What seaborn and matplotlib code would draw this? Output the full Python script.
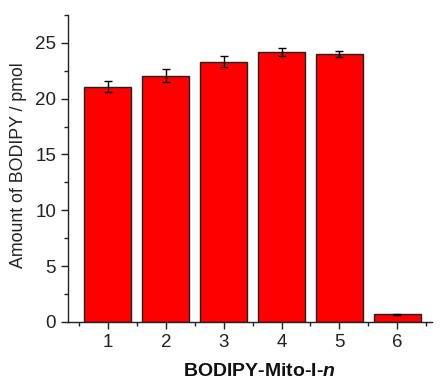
import matplotlib
matplotlib.use("Agg")
import matplotlib.pyplot as plt
import seaborn as sns
import pandas as pd
from matplotlib.ticker import MultipleLocator

categories = [1, 2, 3, 4, 5, 6]
values = [21.05, 22.05, 23.3, 24.15, 24.02, 0.7]
errors = [0.5, 0.6, 0.5, 0.36, 0.25, 0.05]

sns.set_theme(style="ticks")
plt.rcParams['font.family'] = ['Liberation Sans', 'DejaVu Sans']
plt.rcParams['mathtext.fontset'] = 'custom'
plt.rcParams['mathtext.bfit'] = 'Liberation Sans:bold:italic'

df = pd.DataFrame({"n": categories, "amount": values})

fig = plt.figure(figsize=(4.44, 3.81), dpi=100)
ax = fig.add_axes([0.153, 0.155, 0.82, 0.806])

sns.barplot(data=df, x="n", y="amount", native_scale=True, width=0.81,
            color="#ff0000", saturation=1, edgecolor="#222222", linewidth=1.0,
            errorbar=None, ax=ax)
ax.errorbar(categories, values, yerr=errors, fmt="none", ecolor="black",
            elinewidth=1.0, capsize=3, capthick=1.0)

ax.set_xlim(0.31, 6.6)
ax.set_ylim(0, 27.5)
ax.xaxis.set_major_locator(MultipleLocator(1))
ax.xaxis.set_minor_locator(MultipleLocator(0.5))
ax.yaxis.set_major_locator(MultipleLocator(5))
ax.yaxis.set_minor_locator(MultipleLocator(2.5))
ax.tick_params(which="major", direction="out", length=5, width=1, labelsize=13.5, colors="#222222")
ax.tick_params(which="minor", direction="out", length=3, width=1, colors="#222222")
ax.tick_params(axis="x", which="major", pad=4)
for t in ax.get_xticklabels() + ax.get_yticklabels():
    t.set_color("#222222")

sns.despine(ax=ax)
for s in ["left", "bottom"]:
    ax.spines[s].set_linewidth(1.0)
    ax.spines[s].set_color("#222222")

ax.set_ylabel("Amount of BODIPY / pmol", fontsize=12.8, color="#222222")
ax.set_xlabel(r"BODIPY-Mito-I-$\bfit{n}$", fontsize=14, fontweight="bold", color="#111111")
ax.yaxis.set_label_coords(-0.113, 0.51)
ax.xaxis.set_label_coords(0.527, -0.135)

fig.savefig("out.png", dpi=100)
